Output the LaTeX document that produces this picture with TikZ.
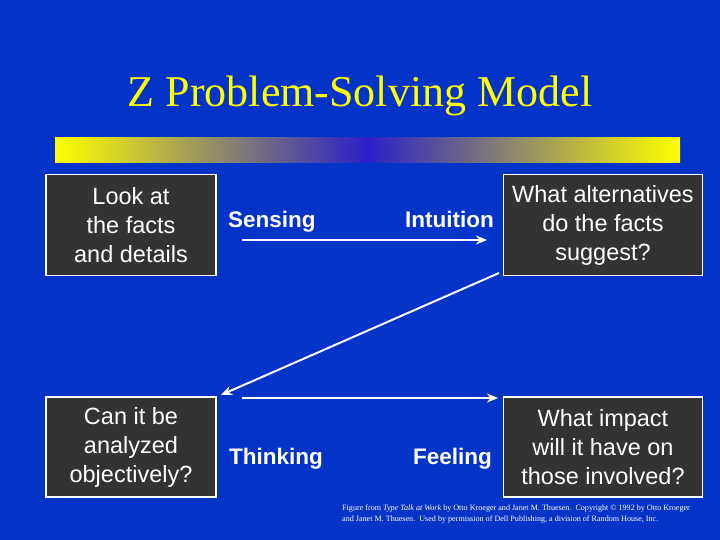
\documentclass[tikz,border=0pt]{standalone}
\usepackage{fontspec}
\setmainfont{Liberation Serif}
\setsansfont{Liberation Sans}
\usetikzlibrary{arrows.meta}
\definecolor{bg}{HTML}{0433C8}
\definecolor{boxc}{HTML}{333333}
\definecolor{ttl}{HTML}{FFFF00}
\definecolor{barmid}{HTML}{2A1FC8}
\tikzset{
  qbox/.style={draw=white, line width=1.5pt, fill=boxc, text=white, font=\sffamily\fontsize{23.5}{29}\selectfont, align=center, inner sep=0pt},
  lbl/.style={text=white, font=\sffamily\bfseries\fontsize{22.5}{26}\selectfont, inner sep=0pt},
  arr/.style={draw=white, line width=2pt, -{Stealth[length=11pt,width=9pt]}}
}
\begin{document}
\begin{tikzpicture}[x=1pt,y=-1pt]
\fill[bg] (0,0) rectangle (720,540);
\useasboundingbox (0,0) rectangle (720,540);
\node[text=ttl, font=\fontsize{44}{48}\selectfont] (title) at (360,96) {Z Problem-Solving Model};
\shade[left color=ttl, right color=barmid] (55,138) rectangle (367,163);
\shade[left color=barmid, right color=ttl] (367,138) rectangle (680,163);
\node[qbox, minimum width=170pt, minimum height=101pt] (b1) at (131,225) {Look at\\the facts\\and details};
\node[qbox, minimum width=199pt, minimum height=101pt] (b2) at (603,225) {What alternatives\\do the facts\\suggest?};
\node[qbox, minimum width=170pt, minimum height=100pt] (b3) at (131,447) {Can it be\\analyzed\\objectively?};
\node[qbox, minimum width=199pt, minimum height=100pt] (b4) at (603,447) {What impact\\will it have on\\those involved?};
\node[lbl, anchor=base west] (s) at (228,227) {Sensing};
\node[lbl, anchor=base east] (i) at (494,227) {Intuition};
\node[lbl, anchor=base west] (t) at (229,464) {Thinking};
\node[lbl, anchor=base east] (f) at (492,464) {Feeling};
\coordinate (a1) at (242,240);
\coordinate (a2) at (487,240);
\coordinate (a3) at (242,398);
\coordinate (a4) at (498,398);
\coordinate (d1) at (499,273);
\coordinate (d2) at (221,395);
\draw[arr] (a1) -- (a2);
\draw[arr] (d1) -- (d2);
\draw[arr] (a3) -- (a4);
\node[text=white, font=\fontsize{8.1}{10.5}\selectfont, align=left, anchor=north west, inner sep=0pt] (fn) at (342,505) {Figure from \textit{Type Talk at Work} by Otto Kroeger and Janet M. Thuesen.\ \ Copyright \textcopyright{} 1992 by Otto Kroeger\\and Janet M. Thuesen.\ \ Used by permission of Dell Publishing, a division of Random House, Inc.};
\end{tikzpicture}
\end{document}
